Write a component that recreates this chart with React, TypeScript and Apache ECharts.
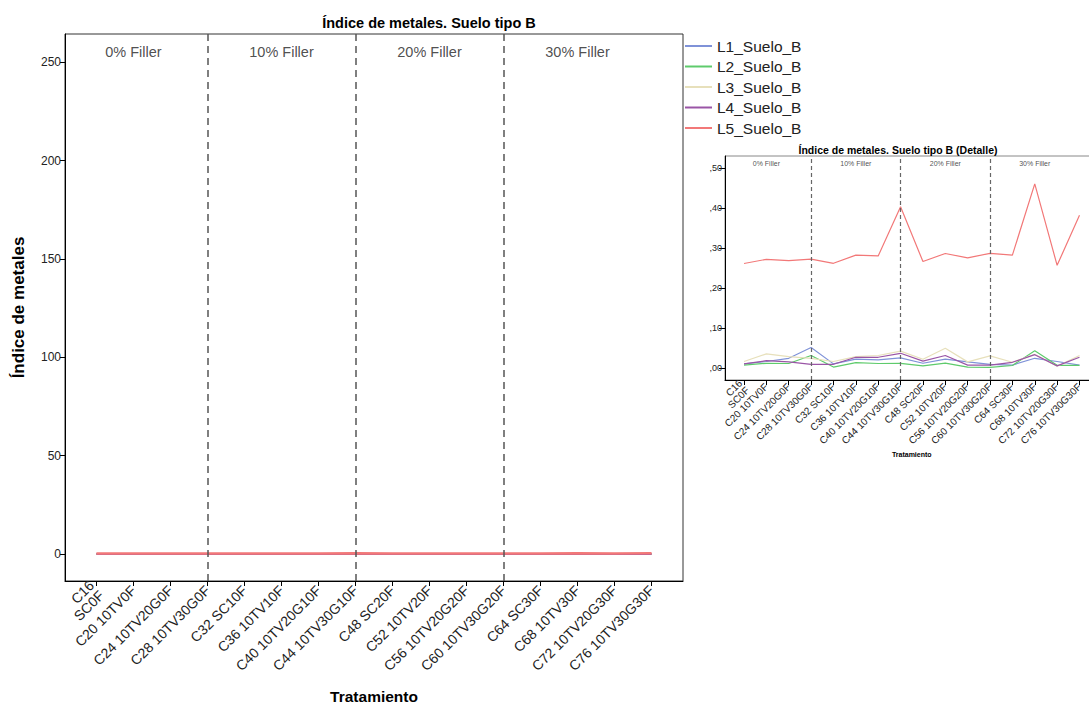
import React, { useEffect, useRef } from "react";
import * as echarts from "echarts";

const categories = [
  "C16\nSC0F", "C20 10TV0F", "C24 10TV20G0F", "C28 10TV30G0F",
  "C32 SC10F", "C36 10TV10F", "C40 10TV20G10F", "C44 10TV30G10F",
  "C48 SC20F", "C52 10TV20F", "C56 10TV20G20F", "C60 10TV30G20F",
  "C64 SC30F", "C68 10TV30F", "C72 10TV20G30F", "C76 10TV30G30F",
];

const seriesNames = ["L1_Suelo_B", "L2_Suelo_B", "L3_Suelo_B", "L4_Suelo_B", "L5_Suelo_B"];
const seriesColors = ["#7f92d8", "#5ecb6c", "#e7e0bb", "#9a55a6", "#f27878"];

const l1 = [0.011, 0.017, 0.025, 0.052, 0.011, 0.023, 0.021, 0.026, 0.0125, 0.023, 0.016, 0.010, 0.008, 0.025, 0.017, 0.008];
const l2 = [0.008, 0.0125, 0.012, 0.032, 0.003, 0.014, 0.012, 0.0125, 0.006, 0.013, 0.003, 0.0025, 0.007, 0.044, 0.0075, 0.0075];
const l3 = [0.017, 0.036, 0.029, 0.025, 0.017, 0.029, 0.032, 0.043, 0.0225, 0.050, 0.016, 0.031, 0.015, 0.035, 0.005, 0.032];
const l4 = [0.011, 0.019, 0.016, 0.010, 0.010, 0.0275, 0.0275, 0.0375, 0.018, 0.032, 0.008, 0.008, 0.015, 0.034, 0.006, 0.0275];
const l5 = [0.262, 0.2725, 0.269, 0.273, 0.2625, 0.283, 0.281, 0.404, 0.267, 0.287, 0.276, 0.2875, 0.283, 0.461, 0.2575, 0.3825];
const allSeries = [l1, l2, l3, l4, l5];

const fillerLabels = ["0% Filler", "10% Filler", "20% Filler", "30% Filler"];
const fillerCats = [1, 5, 9, 13];
const separatorCats = [3, 7, 11];

const mainYTicks = [0, 50, 100, 150, 200, 250];
const insetYTicks = [0, 0.1, 0.2, 0.3, 0.4, 0.5];

const FONT = "'Liberation Sans', Arial, sans-serif";

export default function App() {
  const ref = useRef<HTMLDivElement>(null);

  useEffect(() => {
    if (!ref.current) return;
    const chart = echarts.init(ref.current, null, { renderer: "svg" });
    const catIdx = categories.map((_, i) => i);

    const xAxisBase = (grid: number, fontSize: number, nameGap: number, nameSize: number, tickLen: number) => ({
      type: "value",
      gridIndex: grid,
      min: -0.85,
      max: 15.85,
      axisLine: { show: true, onZero: false, lineStyle: { color: "#000", width: 1 } },
      axisTick: { show: true, customValues: catIdx, length: tickLen, lineStyle: { color: "#000" } },
      axisLabel: {
        customValues: catIdx,
        formatter: (v: number) => categories[Math.round(v)] ?? "",
        rotate: 45,
        fontSize,
        fontFamily: FONT,
        color: "#222",
        margin: grid === 0 ? 7 : 5,
        lineHeight: fontSize * 1.0,
      },
      splitLine: { show: false },
      name: "Tratamiento",
      nameLocation: "middle",
      nameGap,
      nameTextStyle: { fontSize: nameSize, fontWeight: "bold", fontFamily: FONT, color: "#000" },
    });

    const series: any[] = [];
    allSeries.forEach((vals, s) => {
      series.push({
        type: "line",
        name: seriesNames[s],
        xAxisIndex: 0,
        yAxisIndex: 0,
        data: vals.map((v, i) => [i, v]),
        symbol: "none",
        lineStyle: { color: seriesColors[s], width: s === 4 ? 2.5 : 2 },
        itemStyle: { color: seriesColors[s] },
        z: 3,
      });
    });
    allSeries.forEach((vals, s) => {
      series.push({
        type: "line",
        name: seriesNames[s],
        xAxisIndex: 1,
        yAxisIndex: 1,
        data: vals.map((v, i) => [i, v]),
        symbol: "none",
        lineStyle: { color: seriesColors[s], width: 1.2 },
        itemStyle: { color: seriesColors[s] },
        z: 3,
      });
    });

    const fillerSeries = (axis: number, yVal: number, fontSize: number, dash: number[], width: number, color: string) => ({
      type: "scatter",
      xAxisIndex: axis,
      yAxisIndex: axis,
      symbolSize: 0,
      silent: true,
      data: fillerCats.map((c) => [c, yVal]),
      label: {
        show: true,
        position: "inside",
        formatter: (p: any) => fillerLabels[p.dataIndex],
        fontSize,
        fontFamily: FONT,
        color: "#222",
      },
      markLine: {
        silent: true,
        symbol: ["none", "none"],
        label: { show: false },
        lineStyle: { type: dash, color, width },
        data: separatorCats.map((c) => ({ xAxis: c })),
      },
      z: 2,
    });
    series.push(fillerSeries(0, 255.2, 14.5, [7, 5], 1.5, "#555"));
    series.push(fillerSeries(1, 0.511, 7, [4, 3], 1.2, "#666"));

    chart.setOption({
      animation: false,
      backgroundColor: "#fff",
      title: [
        {
          text: "Índice de metales. Suelo tipo B",
          left: 424,
          top: 10,
          textAlign: "center",
          textStyle: { fontSize: 14.5, fontWeight: "bold", fontFamily: FONT, color: "#000" },
        },
        {
          text: "Índice de metales. Suelo tipo B (Detalle)",
          left: 893,
          top: 139,
          textAlign: "center",
          textStyle: { fontSize: 10.5, fontWeight: "bold", fontFamily: FONT, color: "#000" },
        },
      ],
      legend: {
        data: seriesNames,
        orient: "vertical",
        left: 685,
        top: 38,
        padding: 0,
        icon: "rect",
        itemWidth: 27,
        itemHeight: 2,
        itemGap: 4.5,
        textStyle: { fontSize: 15.5, lineHeight: 16, fontFamily: FONT, color: "#222" },
      },
      grid: [
        { left: 65, top: 34, width: 618, height: 548, show: true, borderColor: "#333", borderWidth: 1, containLabel: false },
        { left: 725, top: 156, width: 373.5, height: 224, show: true, borderColor: "#888", borderWidth: 1, containLabel: false },
      ],
      xAxis: [xAxisBase(0, 14, 107, 15.5, 5), xAxisBase(1, 10, 71, 7, 5)],
      yAxis: [
        {
          type: "value",
          gridIndex: 0,
          min: -13.7,
          max: 264.4,
          axisLine: { show: true, onZero: false, lineStyle: { color: "#000" } },
          axisTick: { show: true, customValues: mainYTicks, length: 5, lineStyle: { color: "#000" } },
          axisLabel: { customValues: mainYTicks, fontSize: 12, fontFamily: FONT, color: "#222", margin: 4 },
          splitLine: { show: false },
          name: "Índice de metales",
          nameLocation: "middle",
          nameGap: 38,
          nameTextStyle: { fontSize: 17, fontWeight: "bold", fontFamily: FONT, color: "#000" },
        },
        {
          type: "value",
          gridIndex: 1,
          min: -0.0293,
          max: 0.5308,
          axisLine: { show: true, onZero: false, lineStyle: { color: "#000" } },
          axisTick: { show: true, customValues: insetYTicks, length: 6, lineStyle: { color: "#000" } },
          axisLabel: {
            customValues: insetYTicks,
            formatter: (v: number) => "," + v.toFixed(2).split(".")[1],
            fontSize: 9,
            fontFamily: FONT,
            color: "#222",
            margin: 3,
          },
          splitLine: { show: false },
        },
      ],
      series,
    });

    return () => chart.dispose();
  }, []);

  return (
    <div
      ref={ref}
      style={{ position: "fixed", left: 0, top: 0, width: 1110, height: 709, background: "#fff" }}
    />
  );
}
